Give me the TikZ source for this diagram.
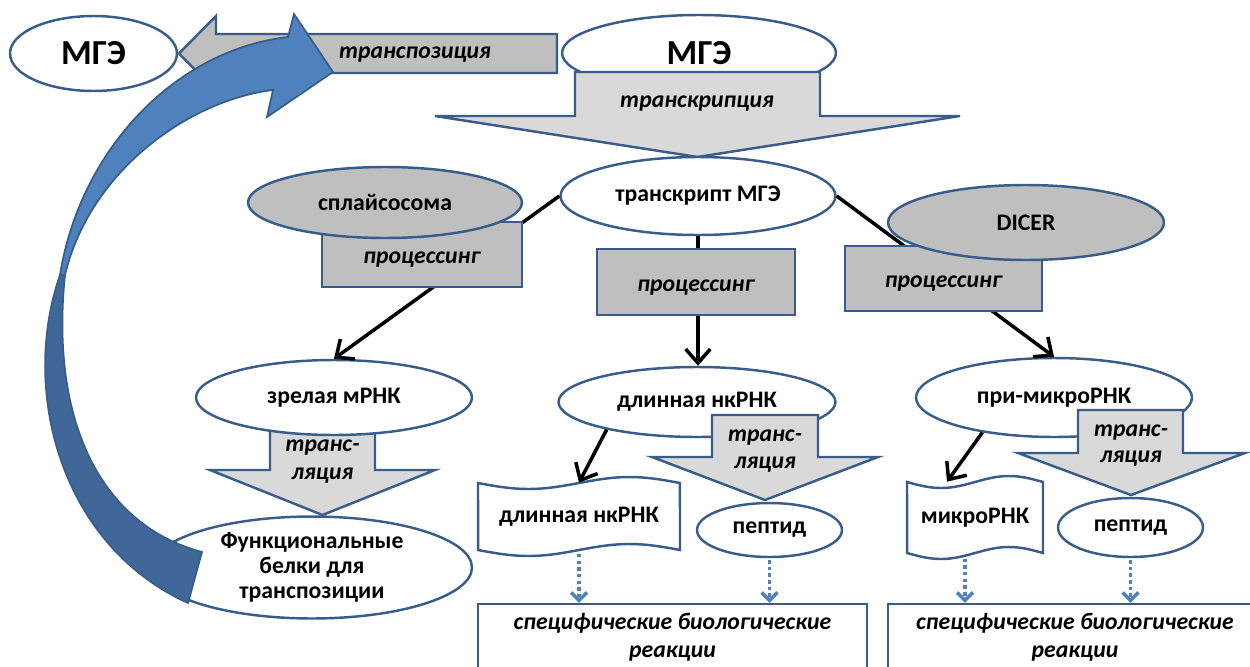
\documentclass[tikz,border=0pt]{standalone}
\usepackage{fontspec}
\setmainfont{Carlito}
\usetikzlibrary{shapes.geometric,arrows.meta}
\definecolor{bord}{RGB}{56,93,138}
\definecolor{gfill}{RGB}{191,191,191}
\definecolor{lfill}{RGB}{217,217,217}
\definecolor{blueL}{RGB}{79,129,189}
\definecolor{blueD}{RGB}{63,104,153}
\definecolor{dotc}{RGB}{79,129,189}
\newcommand{\lowr}[1]{\raisebox{-3pt}[\height][\depth]{#1}}
\begin{document}
\begin{tikzpicture}[x=0.02cm,y=-0.02cm,
  every node/.style={font=\fontsize{13.5}{15.4}\selectfont\bfseries},
  ell/.style={ellipse, draw=bord, line width=1.4pt, fill=white, inner sep=0pt},
  gell/.style={ell, fill=gfill},
  bigtxt/.style={font=\fontsize{20}{24}\selectfont\bfseries},
  procbox/.style={rectangle, draw=bord, line width=1.4pt, fill=gfill, inner sep=0pt,
     font=\fontsize{13.5}{15.4}\selectfont\bfseries\itshape},
  blk/.style={draw=bord, line width=1.4pt, fill=lfill, line join=miter},
  gblk/.style={blk, fill=gfill},
  itl/.style={font=\fontsize{13.5}{15.4}\selectfont\bfseries\itshape, align=center, inner sep=0pt},
  wavebox/.style={draw=bord, line width=1.4pt, fill=white},
  txtbox/.style={rectangle, inner sep=0pt},
  reactbox/.style={rectangle, draw=bord, line width=1.4pt, fill=white, inner sep=0pt},
  conn/.style={line width=2pt, black, -{Straight Barb[length=8pt,width=14pt]}},
  dotarr/.style={line width=2pt, dotc, dash pattern=on 2pt off 1.8pt,
     -{Straight Barb[length=4.5pt,width=9pt]}}
]
\clip (0,0) rectangle (1250,666);

% top row
\node[ell, minimum width=3.34cm, minimum height=1.5cm, bigtxt] (mgeL) at (93.5,53.5) {МГЭ};
\node[ell, minimum width=5.48cm, minimum height=1.52cm, bigtxt] (mgeU) at (699,53) {\raisebox{-2pt}{МГЭ}};

% transposition arrow
\draw[gblk] (179,53.5) -- (216,16) -- (216,34) -- (557,34) -- (557,73) -- (216,73) -- (216,91) -- cycle;
\node[itl] (transp) at (415,55) {транспозиция};

% transcription arrow
\draw[blk] (575,72) -- (820,72) -- (820,116) -- (960,116) -- (697.5,157) -- (435,116) -- (575,116) -- cycle;
\node[itl] (transcr) at (697,104) {транскрипция};

\node[ell, minimum width=5.5cm, minimum height=1.56cm] (tr) at (698,196) {транскрипт МГЭ};

% left branch
\draw[blk] (270,420) -- (375,420) -- (375,470) -- (435,470) -- (322.5,515) -- (210,470) -- (270,470) -- cycle;
\node[ell, minimum width=5.52cm, minimum height=1.5cm] (mrna) at (334,397.5) {зрелая мРНК};
\node[itl, font=\fontsize{13.5}{15.6}\selectfont\bfseries\itshape] (transl1) at (322.5,461.5) {транс-\\ляция};

% middle branch
\node[ell, minimum width=5.54cm, minimum height=1.4cm] (lnc) at (697,402) {длинная нкРНК};
\draw[blk] (712,415) -- (818,415) -- (818,457) -- (878,457) -- (765,500) -- (652,457) -- (712,457) -- cycle;
\node[itl, font=\fontsize{13.5}{15.6}\selectfont\bfseries\itshape] (transl2) at (765,451) {транс-\\ляция};

% right branch
\node[ell, minimum width=5.52cm, minimum height=1.58cm] (primi) at (1054,397.5) {при-микроРНК};
\draw[blk] (1078,410) -- (1183,410) -- (1183,453) -- (1245,453) -- (1131,495) -- (1018,453) -- (1078,453) -- cycle;
\node[itl, font=\fontsize{13.5}{14.4}\selectfont\bfseries\itshape] (transl3) at (1131,445.5) {транс-\\ляция};

% connectors from transcript
\draw[conn] (tr.west) -- (mrna.north);
\draw[conn] (tr.south) -- (tr.south |- lnc.north);
\draw[conn] (tr.east) -- (primi.north);

% processing boxes and enzymes
\node[procbox, minimum width=4cm, minimum height=1.3cm] (p1) at (422,254.5) {\lowr{процессинг}};
\node[gell, minimum width=5.48cm, minimum height=1.42cm] (splice) at (385,202.5) {сплайсосома};
\node[procbox, minimum width=3.96cm, minimum height=1.32cm] (p2) at (696,282) {\lowr{процессинг}};
\node[procbox, minimum width=3.94cm, minimum height=1.3cm] (p3) at (943.5,278.5) {\lowr{процессинг}};
\node[gell, minimum width=5.52cm, minimum height=1.5cm] (dicer) at (1026,222.5) {DICER};

% functional proteins
\node[ell, minimum width=6.4cm, minimum height=2.04cm, align=center,
      font=\fontsize{13.5}{14.3}\selectfont\bfseries] (func) at (312,567.5)
      {Функциональные\\белки для\\транспозиции};

% peptides
\node[ell, minimum width=2.9cm, minimum height=1.08cm] (pep1) at (769.5,530) {пептид};
\node[ell, minimum width=2.9cm, minimum height=1.18cm] (pep2) at (1130.5,527.5) {пептид};

% wavy boxes
\draw[wavebox] plot[domain=0:1,samples=40] ({478+202*\x},{483+6*sin(360*\x)})
   -- plot[domain=1:0,samples=40] ({478+202*\x},{550+6*sin(360*\x)}) -- cycle;
\node[txtbox, minimum width=4.04cm, minimum height=1.34cm] (wave1) at (579,516.5) {длинная нкРНК};
\draw[wavebox] plot[domain=0:1,samples=40] ({907+136*\x},{482+6*sin(360*\x)})
   -- plot[domain=1:0,samples=40] ({907+136*\x},{553+6*sin(360*\x)}) -- cycle;
\node[txtbox, minimum width=2.72cm, minimum height=1.42cm] (micro) at (975,517.5) {микроРНК};

\draw[conn] (lnc.197) -- (wave1.north);
\draw[conn] (primi.206) -- ([xshift=-0.56cm]micro.north);

% reaction boxes
\node[reactbox, minimum width=7.78cm, minimum height=1.92cm] (react1) at (672.5,652) {};
\node[itl, font=\fontsize{13.5}{16}\selectfont\bfseries\itshape] (react1t) at (672.5,637) {специфические биологические\\реакции};
\node[reactbox, minimum width=7.48cm, minimum height=1.92cm] (react2) at (1075,652) {};
\node[itl, font=\fontsize{13.5}{16}\selectfont\bfseries\itshape] (react2t) at (1075,637) {специфические биологические\\реакции};

\draw[dotarr] ([yshift=-2pt]wave1.south) -- (wave1.south |- react1.north);
\draw[dotarr] ([yshift=-1pt]pep1.south) -- (pep1.south |- react1.north);
\draw[dotarr] ([xshift=-0.2cm,yshift=-3pt]micro.south) -- ([xshift=-0.2cm]micro.south |- react2.north);
\draw[dotarr] ([yshift=-1pt]pep2.south) -- (pep2.south |- react2.north);

% blue curved arrow (upper light part with head, lower dark part with tail)
\draw[fill=blueL, draw=bord, line width=1pt, line join=miter]
  (60,275) .. controls (80,150) and (175,50) .. (288,37)
  -- (294,14) -- (333,72) -- (267,117) -- (273,90)
  .. controls (190,100) and (90,170) .. (65,275) -- cycle;
\draw[fill=blueD, draw=bord, line width=1pt, line join=miter]
  (60,275) .. controls (20,390) and (60,545) .. (188,603)
  -- (202,552)
  .. controls (100,525) and (50,420) .. (65,275) -- cycle;
\end{tikzpicture}
\end{document}
